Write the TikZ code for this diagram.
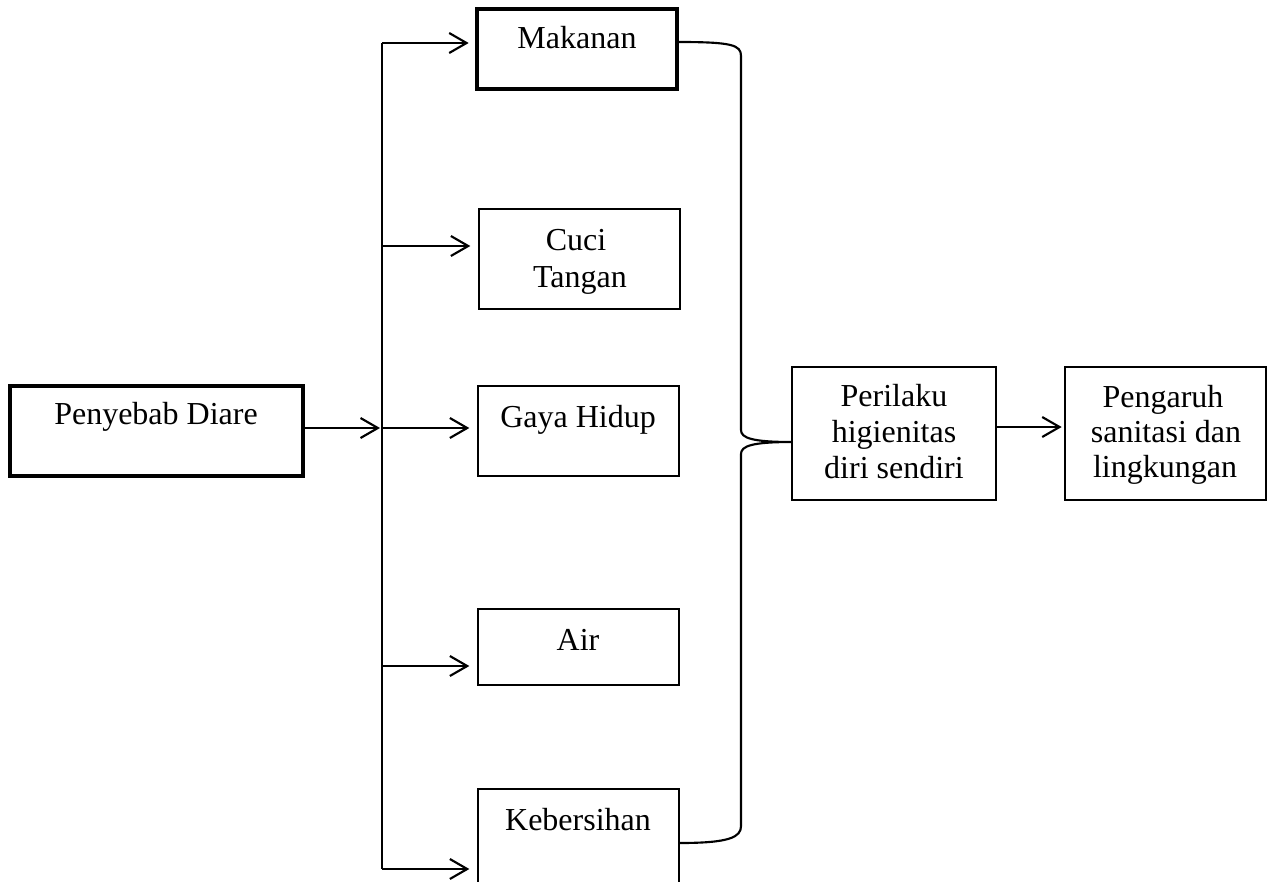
\documentclass[tikz,border=0pt]{standalone}
\usepackage{fontspec}
\setmainfont{Liberation Serif}
\usetikzlibrary{arrows.meta,fit}
\begin{document}
\begin{tikzpicture}[x=0.75pt,y=-0.75pt,
  thickbox/.style={draw,line width=2.5pt,inner sep=0pt},
  thinbox/.style={draw,line width=1pt,inner sep=0pt},
  txt/.style={anchor=base,inner sep=0pt,font=\fontsize{24}{27}\selectfont},
  conn/.style={line width=1.6pt},
  arr/.style={line width=1.6pt,-{Straight Barb[length=13pt,width=15pt,line width=1.6pt]}}]
\clip (0,0) rectangle (1269,881);
% boxes
\node[thickbox,fit={(10,386) (303,476)}] (peny) {};
\node[thickbox,fit={(477,9) (677,89)}] (mak) {};
\node[thinbox,fit={(479,209) (680,309)}] (cuci) {};
\node[thinbox,fit={(478,386) (679,476)}] (gaya) {};
\node[thinbox,fit={(478,609) (679,685)}] (air) {};
\node[thinbox,fit={(478,789) (679,905)}] (keb) {};
\node[thinbox,fit={(792,367) (996,500)}] (per) {};
\node[thinbox,fit={(1065,367) (1266,500)}] (peng) {};
% texts
\node[txt] (tpeny) at (156,424) {Penyebab Diare};
\node[txt] (tmak) at (577,49) {Makanan};
\node[txt] (tcuci1) at (576,250) {Cuci};
\node[txt] (tcuci2) at (580,287) {Tangan};
\node[txt] (tgaya) at (578,427) {Gaya Hidup};
\node[txt] (tair) at (578,650) {Air};
\node[txt] (tkeb) at (578,830) {Kebersihan};
\node[txt] (tper1) at (894,406) {Perilaku};
\node[txt] (tper2) at (894,442) {higienitas};
\node[txt] (tper3) at (894,478) {diri sendiri};
\node[txt] (tpeng1) at (1163,407) {Pengaruh};
\node[txt] (tpeng2) at (1166,442) {sanitasi dan};
\node[txt] (tpeng3) at (1165,477) {lingkungan};
% bus
\coordinate (b1) at (382,43);
\coordinate (b2) at (382,246);
\coordinate (b3) at (382,428);
\coordinate (b4) at (382,666);
\coordinate (b5) at (382,869);
\draw[conn] (b1) -- (b5);
\draw[arr,shorten >=1.5pt] (peny.east |- b3) -- (b3);
\draw[arr,shorten >=5pt] (b1) -- (mak.west |- b1);
\draw[arr,shorten >=6pt] (b2) -- (cuci.west |- b2);
\draw[arr,shorten >=6pt] (b3) -- (gaya.west |- b3);
\draw[arr,shorten >=6pt] (b4) -- (air.west |- b4);
\draw[arr,shorten >=6pt] (b5) -- (keb.west |- b5);
% brace
\coordinate (tip) at (792,442);
\draw[conn] (mak.east |- 0,42) .. controls (732,42) and (741,45) .. (741,56)
  -- (741,430) .. controls (741,438) and (752,442) .. (tip)
  .. controls (752,442) and (741,446) .. (741,454)
  -- (741,826) .. controls (741,837) and (730,843) .. (keb.east |- 0,843);
% last arrow
\draw[arr,shorten >=2pt] (per.east |- 0,427) -- (peng.west |- 0,427);
\end{tikzpicture}
\end{document}
